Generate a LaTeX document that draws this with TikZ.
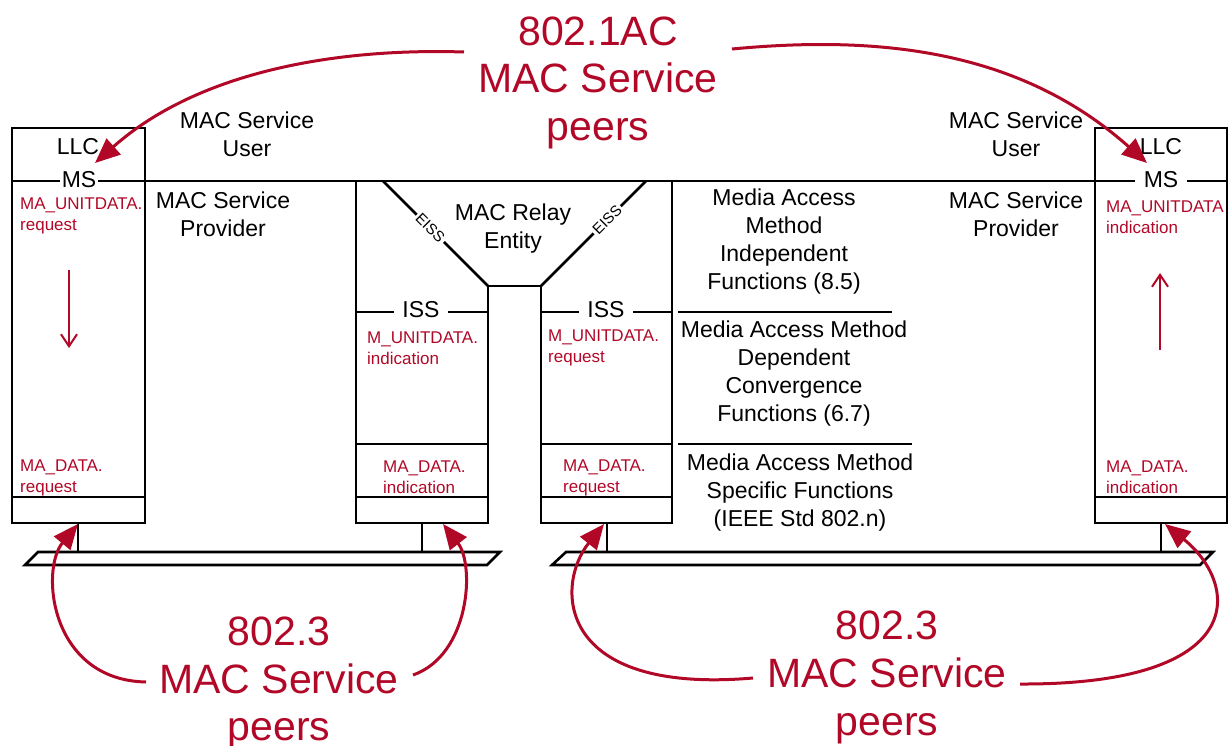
\documentclass[tikz,border=0pt]{standalone}
\usepackage{fontspec}
\setmainfont{Liberation Sans}
\usetikzlibrary{arrows.meta}
\definecolor{mred}{RGB}{178,8,40}
\begin{document}
\begin{tikzpicture}[x=1pt,y=-1pt,
  ln/.style={line width=2.6pt,black},
  lbl/.style={font=\fontsize{23}{28}\selectfont,align=center,inner sep=0pt},
  gap/.style={fill=white,inner ysep=1pt},
  rsm/.style={text=mred,font=\fontsize{17}{21}\selectfont,align=left,anchor=west,inner sep=0pt},
  big/.style={text=mred,font=\fontsize{41}{48}\selectfont,anchor=base,inner sep=0pt},
  peer/.style={draw=mred,line width=3pt,-{Triangle[length=25pt,width=21pt]}},
  flow/.style={draw=mred,line width=2pt,-{Straight Barb[length=12pt,width=16pt]}},
  eiss/.style={font=\fontsize{15}{17}\selectfont,fill=white,inner xsep=2pt,inner ysep=0pt,sloped}]
\useasboundingbox (0,0) rectangle (1228,745);

% ---- left station
\draw[ln] (12,128) rectangle (145,523);
\draw[ln] (12,497) -- (145,497);
% ---- main service line
\draw[ln] (12,181) -- (1227,181);
% ---- relay ports
\draw[ln] (356,181) -- (356,523) -- (488,523) -- (488,286) -- (541,286) -- (541,523) -- (672,523) -- (672,181);
\draw[ln] (356,444) -- (488,444);
\draw[ln] (356,497) -- (488,497);
\draw[ln] (541,444) -- (672,444);
\draw[ln] (541,497) -- (672,497);
\draw[ln] (356,312) -- (488,312);
\draw[ln] (541,312) -- (672,312);
\draw[ln] (383,181) -- (488,286) node[eiss,pos=0.45] (eissL) {EISS};
\draw[ln] (541,286) -- (646,181) node[eiss,pos=0.63] (eissR) {EISS};
% ---- separators
\draw[ln] (678,312) -- (892,312);
\draw[ln] (678,444) -- (912,444);
% ---- right station
\draw[ln] (1095,128) rectangle (1227,523);
\draw[ln] (1095,497) -- (1227,497);
% ---- stubs
\draw[ln] (78,523) -- (78,552);
\draw[ln] (422,523) -- (422,552);
\draw[ln] (607,523) -- (607,552);
\draw[ln] (1161,523) -- (1161,552);
% ---- media bars
\draw[ln,line join=miter] (25,565) -- (38,552) -- (500,552) -- (487,565) -- cycle;
\draw[ln,line join=miter] (552,565) -- (566,552) -- (1213,552) -- (1200,565) -- cycle;

% ---- black labels
\node[lbl] (llcL) at (78,147) {LLC};
\node[lbl,gap,inner xsep=2pt] (msL) at (79,180) {MS};
\node[lbl] (msuL) at (247,134) {MAC Service\\User};
\node[lbl] (mspL) at (223,214) {MAC Service\\Provider};
\node[lbl] (relay) at (513,229) {MAC Relay\\Entity};
\node[lbl,gap,inner xsep=8pt] (issL) at (421,310) {ISS};
\node[lbl,gap,inner xsep=8pt] (issR) at (606,310) {ISS};
\node[lbl] (mami) at (784,242) {Media Access\\Method\\Independent\\Functions (8.5)};
\node[lbl] (mamd) at (794,374) {Media Access Method\\Dependent\\Convergence\\Functions (6.7)};
\node[lbl] (mams) at (800,493) {Media Access Method\\Specific Functions\\(IEEE Std 802.n)};
\node[lbl] (msuR) at (1016,134) {MAC Service\\User};
\node[lbl] (mspR) at (1016,214) {MAC Service\\Provider};
\node[lbl] (llcR) at (1161,147) {LLC};
\node[lbl,gap,inner xsep=9pt] (msR) at (1161,180) {MS};

% ---- red primitives
\node[rsm] (uL) at (20,216) {MA\_UNITDATA.\\request};
\node[rsm] (dL) at (20,478) {MA\_DATA.\\request};
\node[rsm] (uRL) at (367,348) {M\_UNITDATA.\\indication};
\node[rsm] (dRL) at (383,477) {MA\_DATA.\\indication};
\node[rsm] (uRR) at (548,348) {M\_UNITDATA.\\request};
\node[rsm] (dRR) at (563,478) {MA\_DATA.\\request};
\node[rsm] (uR) at (1106,217) {MA\_UNITDATA\\indication};
\node[rsm] (dR) at (1106,477) {MA\_DATA.\\indication};

\coordinate (fL1) at (69,270); \coordinate (fL2) at (69,348);
\coordinate (fR1) at (1160,350); \coordinate (fR2) at (1160,273);
\draw[flow] (fL1) -- (fL2);
\draw[flow] (fR1) -- (fR2);

% ---- big red texts
\node[big] (t1) at (598,45) {802.1AC};
\node[big] (t2) at (598,92) {MAC Service};
\node[big] (t3) at (598,140) {peers};
\node[big] (b1) at (279,645) {802.3};
\node[big] (b2) at (279,693) {MAC Service};
\node[big] (b3) at (279,740) {peers};
\node[big] (c1) at (887,639) {802.3};
\node[big] (c2) at (887,687) {MAC Service};
\node[big] (c3) at (887,735) {peers};

% ---- peer arrows
\coordinate (sTL) at (464,52);   \coordinate (eTL) at (95,163);
\coordinate (sTR) at (732,49);   \coordinate (eTR) at (1147,163);
\coordinate (sBL1) at (146,682); \coordinate (eBL1) at (78,524);
\coordinate (sBL2) at (413,675); \coordinate (eBL2) at (443,524);
\coordinate (sBR1) at (753,678); \coordinate (eBR1) at (604,524);
\coordinate (sBR2) at (1020,684);\coordinate (eBR2) at (1165,524);
\draw[peer] (sTL) .. controls (340,48) and (200,70) .. (eTL);
\draw[peer] (sTR) .. controls (880,35) and (1020,50) .. (eTR);
\draw[peer] (sBL1) .. controls (50,680) and (40,570) .. (eBL1);
\draw[peer] (sBL2) .. controls (470,655) and (475,565) .. (eBL2);
\draw[peer] (sBR1) .. controls (555,695) and (555,585) .. (eBR1);
\draw[peer] (sBR2) .. controls (1250,685) and (1240,585) .. (eBR2);
\end{tikzpicture}
\end{document}
